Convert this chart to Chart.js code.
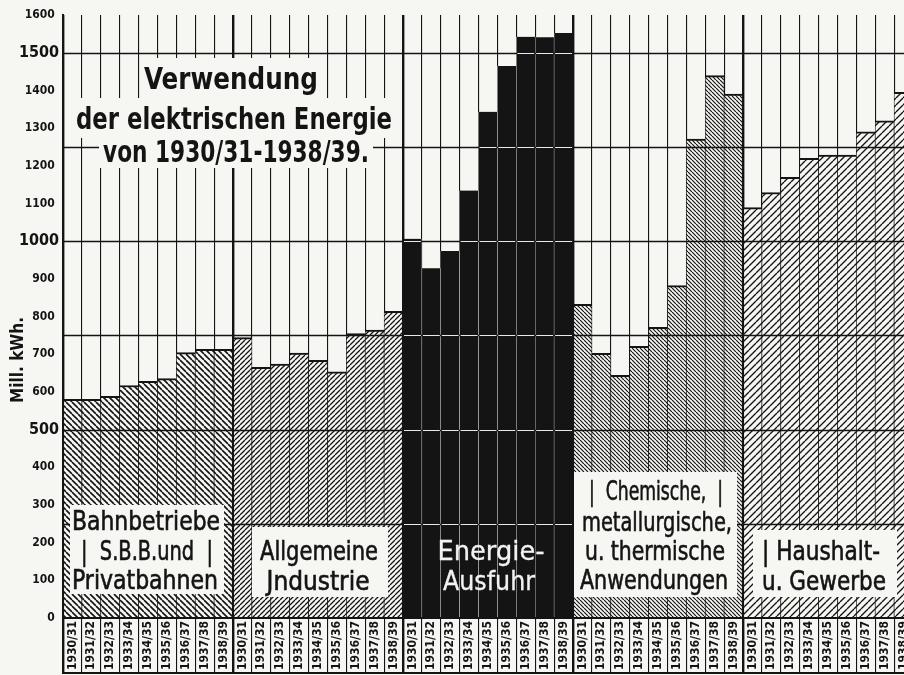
<!DOCTYPE html>
<html><head><meta charset="utf-8">
<script src="https://cdn.jsdelivr.net/npm/chart.js@4/dist/chart.umd.min.js"></script>
<style>
html,body{margin:0;padding:0;background:#f6f6f3;overflow:hidden;}
#wrap{position:relative;width:920px;height:675px;}
</style>
</head><body>
<div id="wrap"><canvas id="c"></canvas></div>
<script>
// ---- data (Mill. kWh.) ----
const seasons = ['1930/31','1931/32','1932/33','1933/34','1934/35','1935/36','1936/37','1937/38','1938/39'];
const bahnbetriebe = [580, 580, 588, 617, 628, 635, 704, 713, 713];
const industrie    = [744, 665, 674, 703, 684, 653, 755, 764, 814];
const ausfuhr      = [1006, 928, 974, 1134, 1343, 1465, 1542, 1541, 1552];
const chemie       = [832, 702, 644, 721, 771, 882, 1271, 1439, 1390];
const haushalt     = [1089, 1129, 1169, 1220, 1228, 1228, 1290, 1319, 1395];
const yMax = 1600;
const yStep = 100;
const majorTicks = [500, 1000, 1500];
const gridLevels = [250, 500, 750, 1000, 1250, 1500];
const titleLines = ['Verwendung', 'der elektrischen Energie', 'von 1930/31-1938/39.'];
const groupLabels = [
  ['Bahnbetriebe', '|  S.B.B.und  |', 'Privatbahnen'],
  ['Allgemeine', 'Jndustrie'],
  ['Energie-', 'Ausfuhr'],
  ['|  Chemische,  |', 'metallurgische,', 'u. thermische', 'Anwendungen'],
  ['| Haushalt-', 'u. Gewerbe']
];
const yTitle = 'Mill. kWh.';

const groups = [bahnbetriebe, industrie, ausfuhr, chemie, haushalt];
const categories = groups.flatMap(() => seasons);
const values = groups.flat();

const INK = '#141414';
const PAPER = '#f6f6f3';
const FONT = '"DejaVu Sans Condensed","DejaVu Sans",sans-serif';

const canvas = document.getElementById('c');
const mainCtx = canvas.getContext('2d');
function hatch(dir, s, lw){
  const t = document.createElement('canvas'); t.width = s; t.height = s;
  const g = t.getContext('2d');
  g.fillStyle = PAPER; g.fillRect(0,0,s,s);
  g.strokeStyle = INK; g.lineWidth = lw; g.beginPath();
  for (let k=-1;k<=1;k++){
    if (dir === '/'){ g.moveTo(k*s, s); g.lineTo(k*s+s, 0); }
    else { g.moveTo(k*s, 0); g.lineTo(k*s+s, s); }
  }
  g.stroke();
  return mainCtx.createPattern(t, 'repeat');
}
const fills = [hatch('\\', 6, 1.6), hatch('/', 5, 1.25), INK, hatch('\\', 4, 1.2), hatch('/', 7, 1.35)];

function fitText(ctx, text, cx, base, size, width, color, weight, stroke){
  ctx.save();
  ctx.font = `${weight||'normal'} ${size}px ${FONT}`;
  const w = ctx.measureText(text).width;
  ctx.translate(cx, base);
  ctx.scale(width / w, 1);
  ctx.fillStyle = color; ctx.textAlign = 'center'; ctx.textBaseline = 'alphabetic';
  ctx.fillText(text, 0, 0);
  if (stroke){ ctx.strokeStyle = color; ctx.lineWidth = stroke; ctx.strokeText(text, 0, 0); }
  ctx.restore();
}

const overlay = {
  id: 'overlay',
  afterDatasetsDraw(chart){
    const ctx = chart.ctx, ca = chart.chartArea, ys = chart.scales.y;
    const meta = chart.getDatasetMeta(0);
    ctx.save();
    gridLevels.forEach(L => {
      const y = Math.round(ys.getPixelForValue(L)) + 0.5;
      ctx.strokeStyle = INK; ctx.lineWidth = 1.3;
      ctx.beginPath(); ctx.moveTo(ca.left, y); ctx.lineTo(ca.right, y); ctx.stroke();
      ctx.strokeStyle = '#e8e8e8'; ctx.lineWidth = 1;
      for (let i=18;i<27;i++){
        if (values[i] > L){
          const el = meta.data[i];
          ctx.beginPath(); ctx.moveTo(el.x - el.width/2 + 1, y); ctx.lineTo(el.x + el.width/2 - 1, y); ctx.stroke();
        }
      }
    });
    ctx.restore();
  },
  afterDraw(chart){
    const ctx = chart.ctx, ca = chart.chartArea;
    ctx.save();
    // bottom frame of label strip
    ctx.strokeStyle = INK; ctx.lineWidth = 2;
    ctx.beginPath(); ctx.moveTo(ca.left - 1, 673); ctx.lineTo(ca.right, 673); ctx.stroke();
    // white boxes
    ctx.fillStyle = PAPER;
    const boxes = [
      [141, 58, 181, 41], [73, 98, 323, 40], [99, 137, 274, 31],
      [70, 505, 154, 89], [252, 527, 136, 70], [574, 472, 163, 125], [753, 530, 144, 67]
    ];
    boxes.forEach(b => ctx.fillRect(b[0], b[1], b[2], b[3]));
    // title
    fitText(ctx, titleLines[0], 231, 89, 30, 174, INK, 'bold');
    fitText(ctx, titleLines[1], 234, 129, 30, 316, INK, 'bold');
    fitText(ctx, titleLines[2], 236, 162, 30, 266, INK, 'bold');
    // group labels
    const g = groupLabels, sw = 0.6;
    fitText(ctx, g[0][0], 146, 530, 27, 148, INK, 'normal', sw);
    fitText(ctx, g[0][1], 147, 560, 27, 132, INK, 'normal', sw);
    fitText(ctx, g[0][2], 145, 589, 27, 146, INK, 'normal', sw);
    fitText(ctx, g[1][0], 319, 560, 27, 118, INK, 'normal', sw);
    fitText(ctx, g[1][1], 318, 590, 27, 103, INK, 'normal', sw);
    fitText(ctx, g[2][0], 491, 560, 27, 107, '#f2f2f2', 'normal', 0.3);
    fitText(ctx, g[2][1], 489, 590, 27, 92, '#f2f2f2', 'normal', 0.3);
    fitText(ctx, g[3][0], 656, 500, 27, 134, INK, 'normal', sw);
    fitText(ctx, g[3][1], 657, 531, 27, 150, INK, 'normal', sw);
    fitText(ctx, g[3][2], 655, 560, 27, 140, INK, 'normal', sw);
    fitText(ctx, g[3][3], 654, 589, 27, 148, INK, 'normal', sw);
    fitText(ctx, g[4][0], 821, 560, 27, 118, INK, 'normal', sw);
    fitText(ctx, g[4][1], 824, 590, 27, 124, INK, 'normal', sw);
    // y title
    ctx.save();
    ctx.translate(23, 360); ctx.rotate(-Math.PI/2);
    fitText(ctx, yTitle, 0, 0, 18, 86, INK, 'bold');
    ctx.restore();
    ctx.restore();
  }
};

new Chart(canvas, {
  type: 'bar',
  data: {
    labels: categories,
    datasets: [{
      data: values,
      backgroundColor: c => fills[Math.floor(c.dataIndex/9)],
      borderColor: c => Math.floor(c.dataIndex/9) === 2 ? '#e6e6e6' : INK,
      borderWidth: c => {
        const i = c.dataIndex, grp = Math.floor(i/9), p = i % 9;
        if (grp === 2) return {top:0, bottom:0, left: p===0?0:0.5, right: p===8?0:0.5};
        return {top:2, bottom:0, left: p===0?1.4:0.7, right: p===8?1.4:0.7};
      },
      borderSkipped: 'start',
      barPercentage: 1,
      categoryPercentage: 1
    }]
  },
  options: {
    responsive: true,
    maintainAspectRatio: false,
    animation: false,
    events: [],
    layout: { padding: { top: 15, right: 7, left: 0, bottom: 0 } },
    plugins: { legend: { display: false }, tooltip: { enabled: false }, title: { display: false } },
    scales: {
      x: {
        offset: true,
        grid: { offset: true, color: INK, lineWidth: c => (c.index % 9 === 0 ? 2.4 : 1.1), tickLength: 55, drawTicks: true },
        border: { color: INK, width: 2, z: 1 },
        ticks: { autoSkip: false, maxRotation: 90, minRotation: 90, padding: -52, color: INK,
                 font: { family: FONT, size: 12, weight: 'bold' } },
        afterFit: s => { s.height = 57; }
      },
      y: {
        min: 0, max: yMax,
        grid: { display: false, drawTicks: false },
        border: { display: true, color: INK, width: 2 },
        ticks: {
          stepSize: yStep, color: INK, padding: 4,
          font: c => majorTicks.includes(c.tick && c.tick.value)
            ? { family: FONT, size: 16, weight: 'bold' }
            : { family: FONT, size: 12, weight: 'bold' },
          callback: v => majorTicks.includes(v) ? String(v) : String(v) + '\u2009\u2009'
        },
        afterFit: s => { s.width = 63; }
      }
    }
  },
  plugins: [overlay]
});
</script>
</body></html>
